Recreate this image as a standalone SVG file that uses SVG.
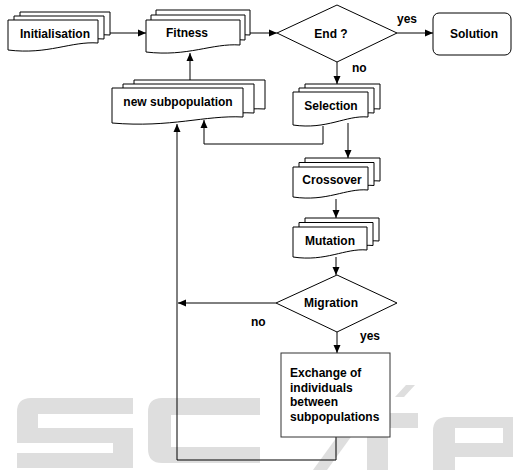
<svg xmlns="http://www.w3.org/2000/svg" width="513" height="470" viewBox="0 0 513 470">
<style>
.wm{fill:#dedede;stroke:none}
.shape{fill:#fff;stroke:#000;stroke-width:1}
.conn{fill:none;stroke:#000;stroke-width:1}
.t{font-family:"Liberation Sans",Arial,sans-serif;font-weight:bold;font-size:12px;fill:#000}
.c{text-anchor:middle}
</style>
<defs>
<marker id="ah" markerUnits="userSpaceOnUse" markerWidth="8" markerHeight="8" refX="8" refY="4" orient="auto">
<path d="M0,0.5 L8,4 L0,7.5 Z" fill="#000"/>
</marker>
</defs>
<rect width="513" height="470" fill="#fff"/>
<g id="watermark">
<path class="wm" d="M17,412 Q17,398 31,398 H133 V414 H38 V428 H133 V468 H17 V453 H113 V443 H17 Z"/>
<path class="wm" d="M148,412 Q148,398 162,398 H260 V415 H171 V447 H260 V463 H162 Q148,463 148,449 Z"/>
<path class="wm" d="M313,470 L327,470 L356,430 L342,430 Z"/>
<path class="wm" d="M395,397 L404,397 L415,385 L406,385 Z"/>
<path class="wm" d="M345,413 H418 V428 H388 V470 H367 V428 H345 Z"/>
<path class="wm" fill-rule="evenodd" d="M433,431 Q433,417 447,417 H513 V457 H455 V470 H433 Z M455,428 H503 V443 H455 Z"/>
</g>
<g id="connectors">
<path class="conn" marker-end="url(#ah)" d="M110,33 H146"/>
<path class="conn" marker-end="url(#ah)" d="M250,33 H277"/>
<path class="conn" marker-end="url(#ah)" d="M397,33 H433"/>
<path class="conn" marker-end="url(#ah)" d="M337,62 V84"/>
<path class="conn" marker-end="url(#ah)" d="M190,80 V53"/>
<path class="conn" marker-end="url(#ah)" d="M323,126 V144 H204 V120"/>
<path class="conn" marker-end="url(#ah)" d="M348,123 V158"/>
<path class="conn" marker-end="url(#ah)" d="M336,199 V218"/>
<path class="conn" marker-end="url(#ah)" d="M336,257 V275"/>
<path class="conn" marker-end="url(#ah)" d="M276,303 H178"/>
<path class="conn" marker-end="url(#ah)" d="M337,332 V353"/>
<path class="conn" marker-end="url(#ah)" d="M336,437 V460 H177 V124"/>
</g>
<g id="initialisation">
<path class="shape" d="M20,12 H110 V35 C83,33 60,47 20,42 Z"/>
<path class="shape" d="M14,16 H104 V39 C77,37 54,51 14,46 Z"/>
<path class="shape" d="M8,20 H98 V43 C71,41 48,55 8,50 Z"/>
<text class="t c" x="55" y="38">Initialisation</text>
</g>
<g id="fitness">
<path class="shape" d="M156,10 H250 V35 C222,33 198,47 156,42 Z"/>
<path class="shape" d="M151,15 H245 V40 C217,38 193,52 151,47 Z"/>
<path class="shape" d="M146,20 H240 V45 C212,43 188,57 146,52 Z"/>
<text class="t c" x="187" y="37">Fitness</text>
</g>
<g id="end">
<path class="shape" d="M337,5 L397,33 L337,62 L277,33 Z"/>
<text class="t c" x="331" y="38">End ?</text>
</g>
<g id="solution">
<rect class="shape" x="433" y="13" width="78" height="42" rx="6"/>
<text class="t c" x="474" y="38">Solution</text>
</g>
<g id="new-subpopulation">
<path class="shape" d="M134,80 H265 V109 C227,107 193,120 134,115 Z"/>
<path class="shape" d="M123,84 H254 V113 C216,111 182,124 123,119 Z"/>
<path class="shape" d="M112,88 H243 V117 C205,115 171,128 112,123 Z"/>
<text class="t c" x="178" y="106">new subpopulation</text>
</g>
<g id="selection">
<path class="shape" d="M305,84 H380 V109 C358,107 339,122 305,117 Z"/>
<path class="shape" d="M299,88 H374 V113 C352,111 333,126 299,121 Z"/>
<path class="shape" d="M293,92 H368 V117 C346,115 327,130 293,125 Z"/>
<text class="t c" x="331" y="110">Selection</text>
</g>
<g id="crossover">
<path class="shape" d="M305,158 H380 V181 C358,179 339,193 305,188 Z"/>
<path class="shape" d="M299,162.5 H374 V185.5 C352,183.5 333,197.5 299,192.5 Z"/>
<path class="shape" d="M293,167 H368 V190 C346,188 327,202 293,197 Z"/>
<text class="t c" x="332" y="184">Crossover</text>
</g>
<g id="mutation">
<path class="shape" d="M305,218 H379 V241 C357,239 338,253 305,248 Z"/>
<path class="shape" d="M299,222.5 H373 V245.5 C351,243.5 332,257.5 299,252.5 Z"/>
<path class="shape" d="M293,227 H367 V250 C345,248 326,262 293,257 Z"/>
<text class="t c" x="330" y="245">Mutation</text>
</g>
<g id="migration">
<path class="shape" d="M337,275 L397,303 L337,332 L276,303 Z"/>
<text class="t c" x="331" y="307">Migration</text>
</g>
<g id="exchange">
<rect x="281" y="353" width="109" height="84" fill="#fff" stroke="#333" stroke-width="1"/>
<text class="t" font-size="11.5" x="290" y="377">Exchange of</text>
<text class="t" font-size="11.5" x="290" y="392">individuals</text>
<text class="t" font-size="11.5" x="290" y="406">between</text>
<text class="t" font-size="11.5" x="290" y="421">subpopulations</text>
</g>
<g id="labels">
<text class="t" x="397" y="23">yes</text>
<text class="t" x="352" y="72">no</text>
<text class="t" x="251" y="326">no</text>
<text class="t" x="360" y="340">yes</text>
</g>
</svg>
